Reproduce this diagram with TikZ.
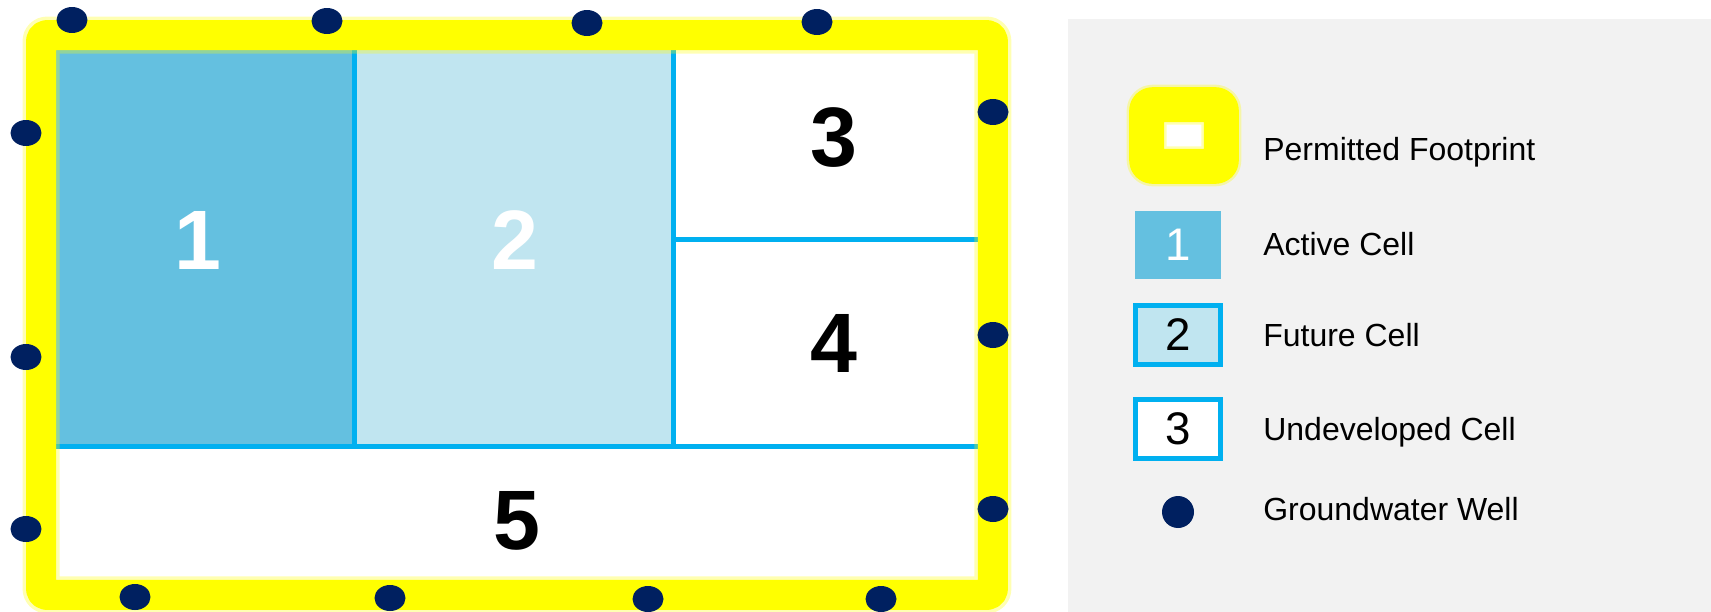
\documentclass[tikz,border=0pt]{standalone}
\usepackage{fontspec}
\setmainfont{Liberation Sans}
\usetikzlibrary{shapes.geometric}
\definecolor{footyellow}{HTML}{FFFF00}
\definecolor{activeblue}{HTML}{64C0E0}
\definecolor{futureblue}{HTML}{C0E5F0}
\definecolor{cellline}{HTML}{00B0F0}
\definecolor{wellnavy}{HTML}{002060}
\definecolor{legendgray}{HTML}{F2F2F2}

\begin{document}
\begin{tikzpicture}[x=0.02cm, y=-0.02cm,
    cell/.style={rectangle, inner sep=0pt, outer sep=0pt, font=\fontsize{48}{48}\selectfont\bfseries},
    divider/.style={draw=cellline, line width=0.1cm},
    footprint/.style={draw=footyellow, line width=0.6cm, rounded corners=0.12cm, line join=round},
    glow/.style={draw=footyellow, draw opacity=0.3, line width=0.74cm, rounded corners=0.12cm, line join=round},
    well/.style={ellipse, fill=wellnavy, inner sep=0pt, minimum width=0.62cm, minimum height=0.52cm},
    keybox/.style={rectangle, inner sep=0pt, minimum width=1.7cm, minimum height=1.2cm, font=\fontsize{26}{26}\selectfont},
    keylabel/.style={anchor=base west, inner sep=0pt, font=\fontsize{18.2}{18.2}\selectfont},
]
\useasboundingbox (0,0) rectangle (1711,612);

% cells of the footprint
\node (cellA) [cell, fill=activeblue, text=white, minimum width=6.28cm, minimum height=8.22cm] at (198,240.5) {1};
\node (cellB) [cell, fill=futureblue, text=white, minimum width=6.38cm, minimum height=8.22cm] at (514.5,240.5) {2};
\node (cellC) [cell, fill=white, minimum width=6.38cm, minimum height=4.1cm] at (833.5,137.5) {3};
\node (cellD) [cell, fill=white, minimum width=6.38cm, minimum height=4.12cm] at (833.5,343) {4};
\node (cellE) [cell, fill=white, minimum width=19.04cm, minimum height=2.98cm] at (517,520.5) {5};

\draw [divider] (cellA.north east) -- (cellA.south east);
\draw [divider] (cellB.north east) -- (cellB.south east);
\draw [divider] (cellC.south west) -- (cellC.south east);
\draw [divider] (cellE.north west) -- (cellE.north east);

\draw [glow] (cellA.north west) rectangle (cellE.south east);
\draw [footprint] (cellA.north west) rectangle (cellE.south east);

% wells
\foreach \wx/\wy [count=\i] in {72/20, 327/21, 587/23, 817/22, 26/133, 26/357, 26/529, 993/112, 993/335, 993/509, 135/597, 390/598, 648/599, 881/599}
  \node (well\i) [well] at (\wx,\wy) {};

% legend
\node (legendbg) [fill=legendgray, inner sep=0pt, minimum width=12.86cm, minimum height=11.86cm] at (1389.5,315.5) {};

\node (keyfoot) [keybox, fill=white, minimum width=1.48cm, minimum height=1.22cm] at (1184,135.5) {};
\draw [glow, line width=0.8cm] (keyfoot.north west) rectangle (keyfoot.south east);
\draw [footprint, line width=0.7cm] (keyfoot.north west) rectangle (keyfoot.south east);
\node (keyactive) [keybox, fill=activeblue, text=white, minimum width=1.72cm, minimum height=1.36cm] at (1178,245) {1};
\node (keyfuture) [keybox, fill=futureblue, draw=cellline, line width=0.1cm] at (1178,335) {2};
\node (keyundev) [keybox, fill=white, draw=cellline, line width=0.1cm] at (1178,429) {3};
\node (keywell) [well, circle, minimum size=0.64cm] at (1178,512) {};

\node (lblfoot) [keylabel] at (1263,160) {Permitted Footprint};
\node (lblactive) [keylabel] at (1263,255) {Active Cell};
\node (lblfuture) [keylabel] at (1263,346) {Future Cell};
\node (lblundev) [keylabel] at (1263,440) {Undeveloped Cell};
\node (lblwell) [keylabel] at (1263,520) {Groundwater Well};

\end{tikzpicture}
\end{document}
